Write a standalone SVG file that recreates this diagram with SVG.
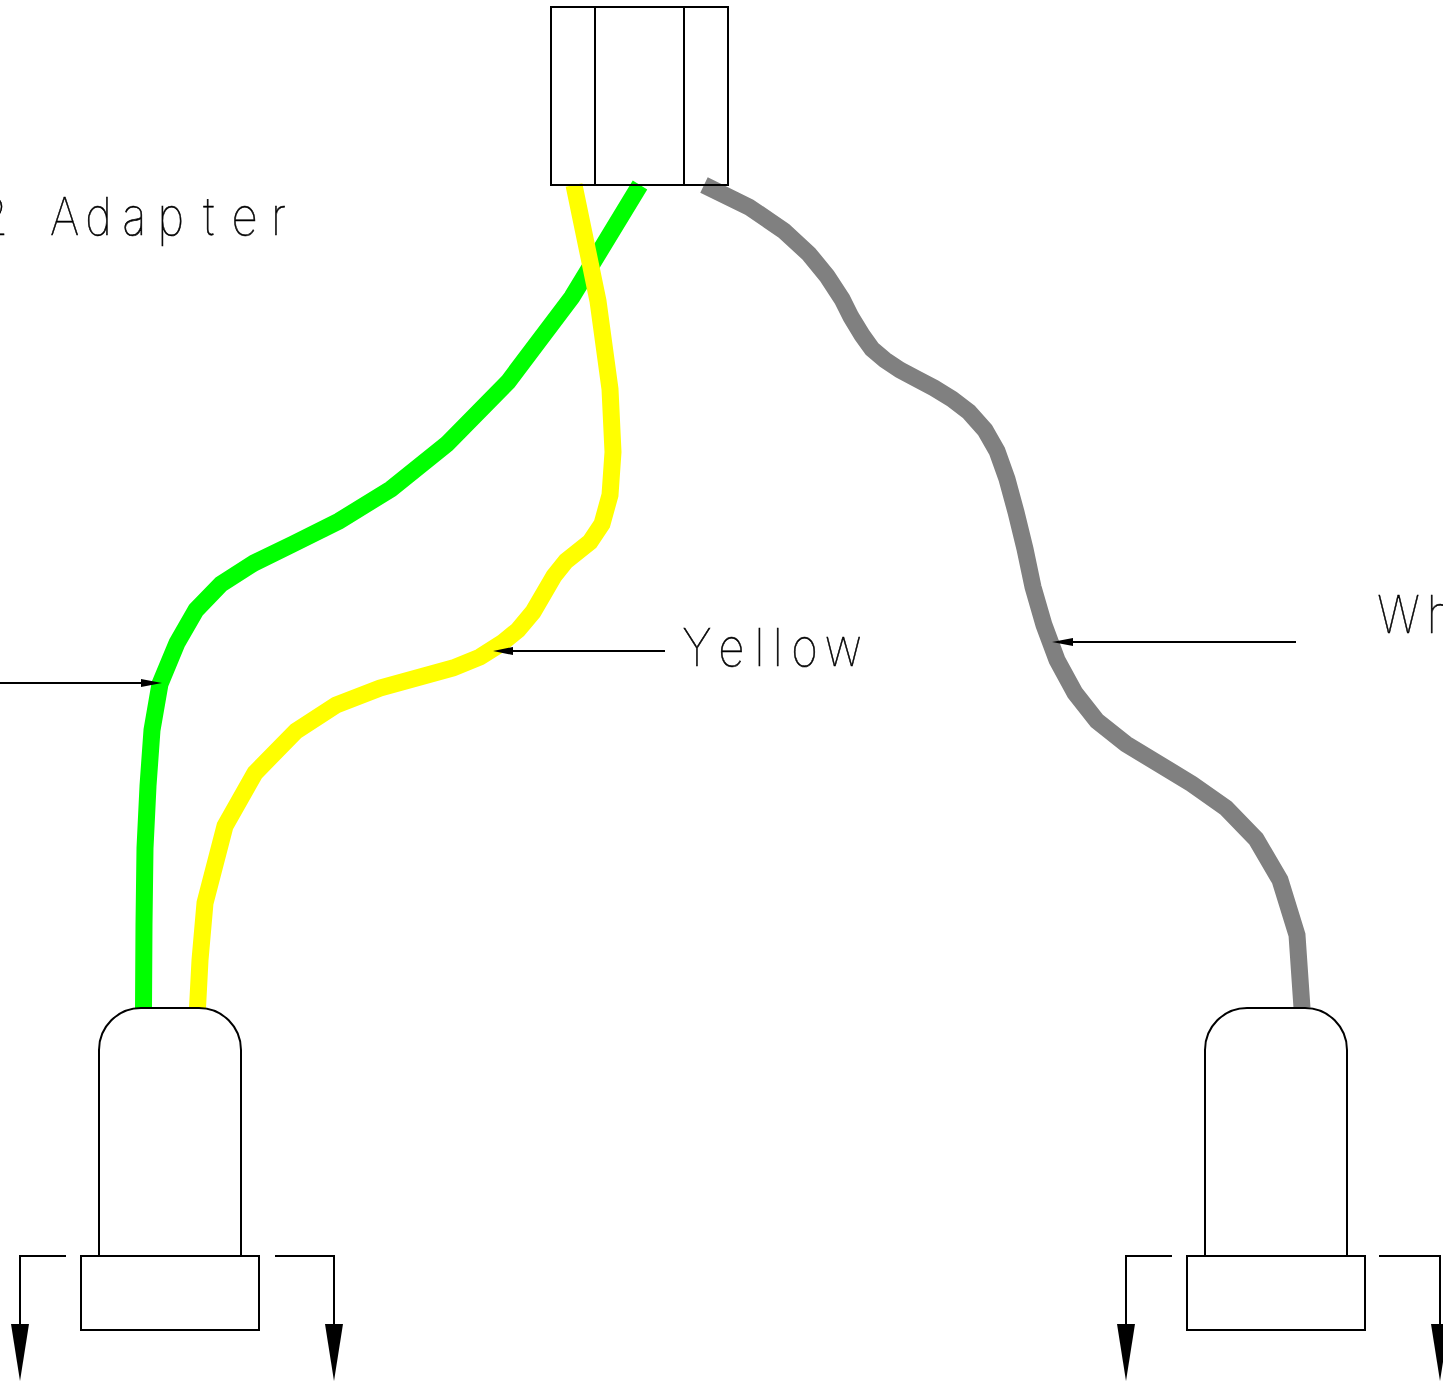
<svg xmlns="http://www.w3.org/2000/svg" width="1443" height="1381" viewBox="0 0 1443 1381">
<style>
.l{fill:none;stroke:#000;stroke-width:2}
.w{fill:none;stroke-width:17;stroke-linejoin:miter}
.h{fill:#000;stroke:none}
text{font-family:"Inter","Liberation Sans",sans-serif;font-weight:100;font-size:52px;fill:#000;stroke:#000;stroke-width:.6}
</style>
<rect width="1443" height="1381" fill="#fff"/>
<g id="connectors">
<polyline class="w" stroke="#00ff00" points="640,185 572,297 508,382 447,444 391,489 339,521 293,544 254,563 221,584 196,610 177,643 160,684 152,730 148,786 145,848 144,924 143.5,1008"/>
<polyline class="w" stroke="#ffff00" points="574,185 598,301 610,389 613,452 610,495 602,524 590,542 566,561 554,576 533,612 518,630 502,643 480,657 453,668 380,688 336,705 296,731 255,773 225,826 205,903 200,960 197.5,1008"/>
<polyline class="w" stroke="#808080" points="704,185 749,207 784,231 809,254 827,276 842,299 851,317 862,335 872,349 885,360 900,370 917,379 934,388 952,399 969,412 985,430 997,451 1007,479 1016,512 1025,549 1033,587 1044,625 1057,660 1075,693 1097,721 1126,744 1159,764 1192,784 1226,808 1256,839 1280,880 1297,935 1302,1008"/>
<path class="l" d="M0,683H145"/><polygon class="h" points="162,683 141,679 141,687"/>
<path class="l" d="M665,651H510"/><polygon class="h" points="493,651 513,647 513,655"/>
<path class="l" d="M1296,642H1070"/><polygon class="h" points="1052,642 1073,638 1073,646"/>
<path class="l" d="M66,1256H20V1326"/><polygon class="h" points="11,1324 29,1324 20,1381"/>
<path class="l" d="M275,1256H334V1326"/><polygon class="h" points="325,1324 343,1324 334,1381"/>
<path class="l" d="M1172,1256H1126V1326"/><polygon class="h" points="1117,1324 1135,1324 1126,1381"/>
<path class="l" d="M1379,1256H1440V1326"/><polygon class="h" points="1431,1324 1449,1324 1440,1381"/>
</g>
<g id="top-connector">
<rect class="l" x="551" y="7" width="177" height="178"/>
<path class="l" d="M595,7V185M684,7V185"/>
</g>
<g id="left-plug">
<path class="l" d="M99,1256V1050A42,42 0 0 1 141,1008H199A42,42 0 0 1 241,1050V1256"/>
<rect class="l" x="81" y="1256" width="178" height="74"/>
</g>
<g id="right-plug">
<path class="l" d="M1205,1256V1050A42,42 0 0 1 1247,1008H1305A42,42 0 0 1 1347,1050V1256"/>
<rect class="l" x="1187" y="1256" width="178" height="74"/>
</g>
<g id="labels">
<text transform="translate(51,235) scale(.88,1)" x="-81 -40 -1 39 81 121 173 205 250" y="0" xml:space="preserve">2 Adapter</text>
<text transform="translate(684,666) scale(.88,1)" x="-2 39 80 101 122 160" y="0">Yellow</text>
<text transform="translate(1380,633) scale(.88,1)" x="-3 53" y="0">Wh</text>
</g>
</svg>
